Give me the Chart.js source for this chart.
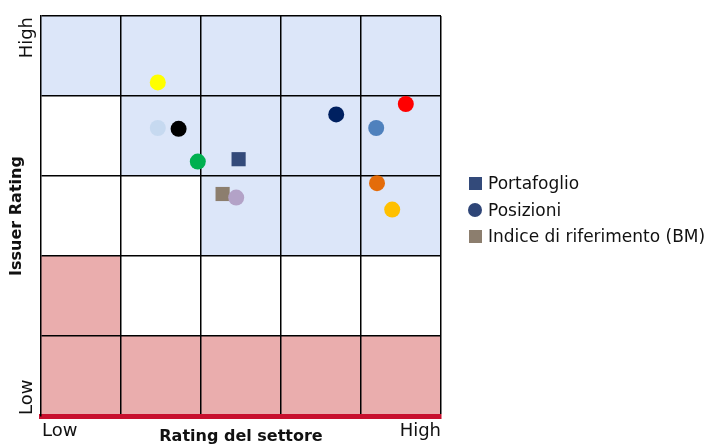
<!DOCTYPE html>
<html>
<head>
<meta charset="utf-8">
<script src="https://cdn.jsdelivr.net/npm/chart.js@4.4.1/dist/chart.umd.min.js"></script>
<style>
  body { margin: 0; background: #fff; }
  #wrap { position: relative; width: 709px; height: 445px; }
  #legend { position: absolute; left: 469px; top: 169.75px; font-family: 'DejaVu Sans', sans-serif; font-size: 17px; color: #111; }
  .item { display: flex; align-items: center; height: 26.5px; white-space: nowrap; }
  .mark { width: 13px; height: 13px; margin-right: 6px; flex: none; }
  .mark.circle { width: 14px; height: 14px; border-radius: 50%; margin-left: -1px; }
</style>
</head>
<body>
<div id="wrap">
  <canvas id="chart" width="709" height="445"></canvas>
  <div id="legend"></div>
</div>
<script>
// Axis end labels
const axisEnds = ['Low', 'High'];
const xTitle = 'Rating del settore';
const yTitle = 'Issuer Rating';

// Portfolio and benchmark (sector rating, issuer rating)
const portfolioX = [2.47];
const portfolioY = [3.21];
const benchmarkX = [2.27];
const benchmarkY = [2.775];

// Single positions
const positionsX = [1.46, 1.46, 1.72, 1.96, 2.44, 3.69, 4.56, 4.19, 4.20, 4.39];
const positionsY = [4.17, 3.60, 3.59, 3.18, 2.73, 3.77, 3.90, 3.60, 2.91, 2.58];
const positionColors = ['#ffff00', '#c6d9f0', '#000000', '#00b050', '#b3a2c7',
                        '#002060', '#ff0000', '#4f81bd', '#e46c0a', '#ffc000'];

// Zone of each cell, top row (high issuer rating) first
const zoneRows = [
    ['good', 'good', 'good', 'good', 'good'],
    ['none', 'good', 'good', 'good', 'good'],
    ['none', 'none', 'good', 'good', 'good'],
    ['bad',  'none', 'none', 'none', 'none'],
    ['bad',  'bad',  'bad',  'bad',  'bad']
];

const zoneColors = { good: '#dce6f9', none: '#ffffff', bad: '#eaadad' };

const toPoints = (xs, ys) => xs.map((x, i) => ({ x: x, y: ys[i] }));

// Coloured cells behind the grid
const zonePlugin = {
    id: 'zones',
    beforeDraw(chart) {
        const { ctx, scales: { x, y } } = chart;
        const n = zoneRows.length;
        ctx.save();
        zoneRows.forEach((row, r) => {
            row.forEach((zone, c) => {
                const x0 = x.getPixelForValue(c);
                const x1 = x.getPixelForValue(c + 1);
                const y0 = y.getPixelForValue(n - r);
                const y1 = y.getPixelForValue(n - r - 1);
                ctx.fillStyle = zoneColors[zone];
                ctx.fillRect(x0, y0, x1 - x0, y1 - y0);
            });
        });
        ctx.restore();
    }
};

// Axis end labels and titles
const labelPlugin = {
    id: 'axisLabels',
    afterDraw(chart) {
        const { ctx, chartArea: a, scales: { x, y } } = chart;
        ctx.save();
        ctx.fillStyle = '#111';
        ctx.textBaseline = 'alphabetic';

        ctx.font = '18px "DejaVu Sans"';
        ctx.textAlign = 'left';
        ctx.fillText(axisEnds[0], x.getPixelForValue(0) + 1, 436);
        ctx.textAlign = 'right';
        ctx.fillText(axisEnds[1], x.getPixelForValue(5), 436);

        ctx.save();
        ctx.translate(32, y.getPixelForValue(0) - 1);
        ctx.rotate(-Math.PI / 2);
        ctx.textAlign = 'left';
        ctx.fillText(axisEnds[0], 0, 0);
        ctx.restore();

        ctx.save();
        ctx.translate(32, y.getPixelForValue(5) + 1);
        ctx.rotate(-Math.PI / 2);
        ctx.textAlign = 'right';
        ctx.fillText(axisEnds[1], 0, 0);
        ctx.restore();

        ctx.font = 'bold 16px "DejaVu Sans"';
        ctx.textAlign = 'center';
        ctx.fillText(xTitle, (a.left + a.right) / 2, 441);

        ctx.save();
        ctx.translate(20.5, 216);
        ctx.rotate(-Math.PI / 2);
        ctx.fillText(yTitle, 0, 0);
        ctx.restore();

        ctx.restore();
    }
};

const datasets = [
    {
        label: 'Portafoglio',
        data: toPoints(portfolioX, portfolioY),
        pointStyle: 'rect',
        pointRadius: 10,
        backgroundColor: '#334a7a',
        legendColor: '#334a7a',
        borderWidth: 0
    },
    {
        label: 'Posizioni',
        data: toPoints(positionsX, positionsY),
        pointStyle: 'circle',
        pointRadius: 8,
        backgroundColor: positionColors,
        legendColor: '#2e4577',
        borderWidth: 0
    },
    {
        label: 'Indice di riferimento (BM)',
        data: toPoints(benchmarkX, benchmarkY),
        pointStyle: 'rect',
        pointRadius: 10,
        backgroundColor: '#8c7e6e',
        legendColor: '#8c7e6e',
        borderWidth: 0
    }
];

const gridScale = (borderColor, borderWidth) => ({
    type: 'linear',
    min: 0,
    max: 5,
    ticks: { display: false, stepSize: 1 },
    grid: {
        drawTicks: false,
        lineWidth: 1.5,
        color: (c) => (c.tick && c.tick.value === 0 ? 'rgba(0,0,0,0)' : '#000')
    },
    border: { display: true, color: borderColor, width: borderWidth }
});

new Chart(document.getElementById('chart'), {
    type: 'scatter',
    data: { datasets: datasets },
    options: {
        responsive: false,
        animation: false,
        devicePixelRatio: 1,
        layout: { padding: { left: 41, right: 268, top: 16, bottom: 29 } },
        scales: {
            x: gridScale('#c8102e', 5),
            y: gridScale('#000', 1.5)
        },
        plugins: {
            legend: { display: false },
            tooltip: { enabled: false }
        }
    },
    plugins: [zonePlugin, labelPlugin]
});

// Legend built from the datasets
const legendEl = document.getElementById('legend');
datasets.forEach(ds => {
    const item = document.createElement('div');
    item.className = 'item';
    const mark = document.createElement('span');
    mark.className = 'mark' + (ds.pointStyle === 'circle' ? ' circle' : '');
    mark.style.background = ds.legendColor;
    const text = document.createElement('span');
    text.textContent = ds.label;
    item.appendChild(mark);
    item.appendChild(text);
    legendEl.appendChild(item);
});
</script>
</body>
</html>
